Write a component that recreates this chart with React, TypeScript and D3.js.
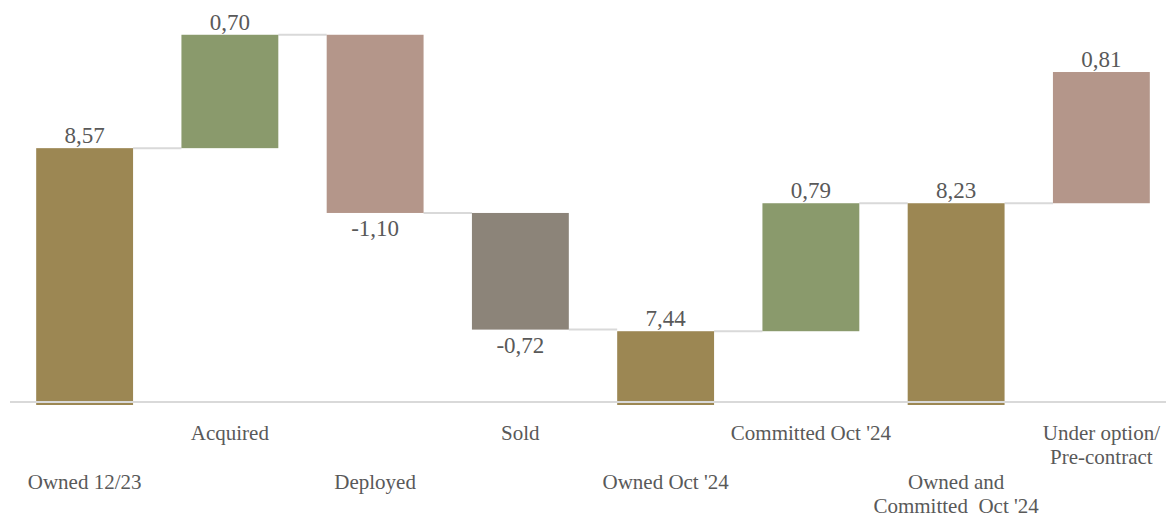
import * as d3 from "d3";
import React, { useEffect, useRef } from "react";

const categories: string[][] = [
    ["Owned 12/23"],
    ["Acquired"],
    ["Deployed"],
    ["Sold"],
    ["Owned Oct '24"],
    ["Committed Oct '24"],
    ["Owned and", "Committed  Oct '24"],
    ["Under option/", "Pre-contract"],
];
const values = [8.57, 0.70, -1.10, -0.72, 7.44, 0.79, 8.23, 0.81];
const isTotal = [true, false, false, false, true, false, true, false];
const barColors = ["#9c8753", "#8a9a6c", "#b4968a", "#8c8479", "#9c8753", "#8a9a6c", "#9c8753", "#b4968a"];

const width = 1166;
const height = 517;
const textColor = "#595959";
const font = "'Liberation Serif', 'Times New Roman', serif";

const App: React.FC = () => {
    const wrapper = useRef<SVGSVGElement>(null);

    useEffect(() => {
        if (!wrapper.current) return;
        const svg = d3.select(wrapper.current);
        svg.selectAll("*").remove();

        // running totals for the waterfall
        let running = 0;
        const steps = values.map((v, i) => {
            let start: number, end: number;
            if (isTotal[i]) {
                start = 7;
                end = v;
                running = v;
            } else {
                start = running;
                end = running + v;
                running = end;
            }
            return { i, v, start, end, total: isTotal[i] };
        });

        const x = d3.scaleBand<number>()
            .domain(d3.range(values.length))
            .range([12, 1174])
            .paddingInner(0.333)
            .paddingOuter(0.1665);

        const y = d3.scaleLinear().domain([7, 9.5]).range([402.5, -2.5]);
        const base = y(7);

        const g = svg.append("g");

        // connectors
        g.selectAll(null)
            .data(steps.slice(0, -1))
            .enter()
            .append("line")
            .attr("x1", (d) => (x(d.i) || 0) + x.bandwidth())
            .attr("x2", (d) => x(d.i + 1) || 0)
            .attr("y1", (d) => y(d.end))
            .attr("y2", (d) => y(d.end))
            .attr("stroke", "#d9d9d9")
            .attr("stroke-width", 2);

        g.selectAll(null)
            .data(steps)
            .enter()
            .append("rect")
            .attr("x", (d) => x(d.i) || 0)
            .attr("width", x.bandwidth())
            .attr("y", (d) => y(Math.max(d.start, d.end)))
            .attr("height", (d) => d.total
                ? base + 2.5 - y(d.end)
                : Math.abs(y(d.start) - y(d.end)))
            .attr("fill", (d) => barColors[d.i]);

        // axis line
        g.append("line")
            .attr("x1", 10)
            .attr("x2", width)
            .attr("y1", base - 0.5)
            .attr("y2", base - 0.5)
            .attr("stroke", "#d9d9d9")
            .attr("stroke-width", 2);

        // value labels
        g.selectAll(null)
            .data(steps)
            .enter()
            .append("text")
            .attr("x", (d) => (x(d.i) || 0) + x.bandwidth() / 2)
            .attr("y", (d) => d.v < 0 ? y(d.end) + 23 : y(d.end) - 5)
            .attr("text-anchor", "middle")
            .attr("fill", textColor)
            .style("font-family", font)
            .style("font-size", "23px")
            .text((d) => d3.format(".2f")(d.v).replace(".", ",").replace("−", "-"));

        // category labels, alternating rows
        const labels = g.selectAll(null)
            .data(categories)
            .enter()
            .append("text")
            .attr("x", (_, i) => (x(i) || 0) + x.bandwidth() / 2)
            .attr("y", (_, i) => (i % 2 === 1 ? 440 : 489))
            .attr("text-anchor", "middle")
            .attr("fill", textColor)
            .style("font-family", font)
            .style("font-size", "21px");

        labels.each(function (d, i) {
            const t = d3.select(this);
            d.forEach((line, j) => {
                t.append("tspan")
                    .attr("x", (x(i) || 0) + x.bandwidth() / 2)
                    .attr("dy", j === 0 ? 0 : 24)
                    .style("white-space", "pre")
                    .text(line);
            });
        });
    }, []);

    return (
        <svg
            ref={wrapper}
            width={width}
            height={height}
            style={{ position: "absolute", left: 0, top: 0 }}
        />
    );
};

export default App;
